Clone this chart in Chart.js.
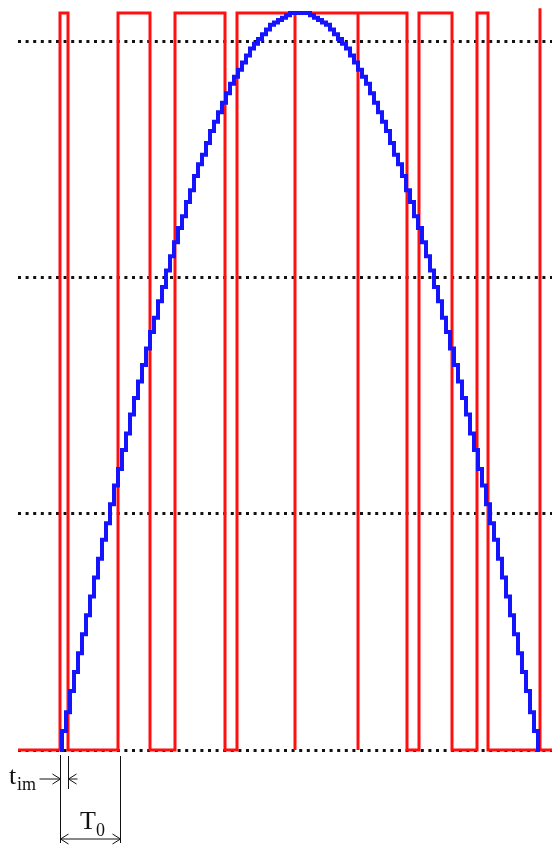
<!DOCTYPE html>
<html>
<head>
<meta charset="utf-8">
<script src="https://cdn.jsdelivr.net/npm/chart.js@4.4.1/dist/chart.umd.min.js"></script>
<style>
  html, body { margin: 0; padding: 0; background: #fff; }
  #wrap { width: 552px; height: 846px; position: relative; }
</style>
</head>
<body>
<div id="wrap"><canvas id="pwmChart"></canvas></div>
<script>
// horizontal extent (same units as the picture's x)
const xMin = 18;
const xMax = 552;
const yTop = 3.12;
const gridLevels = [0, 1, 2, 3];

// red pulse train: edges and the level held after each edge
const pulseX = [18, 60, 68, 118, 150, 175, 225, 237, 295, 295, 358, 358, 407, 419, 452, 477, 488, 540, 540, 552];
const pulseY = [0, 3.12, 0, 3.12, 0, 3.12, 0, 3.12, 0, 3.12, 0, 3.12, 0, 3.12, 0, 3.12, 0, 3.14, 0, 0];

// blue stepped half wave (rising half, falling half)
const waveX = [60, 64, 68, 72, 76, 80, 84, 88, 92, 96, 100, 104, 108, 112, 116, 120, 124, 128, 132, 136,
  140, 144, 148, 152, 156, 160, 164, 168, 172, 176, 180, 184, 188, 192, 196, 200, 204, 208, 212, 216,
  220, 224, 228, 232, 236, 240, 244, 248, 252, 256, 260, 264, 268, 272, 276, 280, 284, 288, 292, 296, 300,
  304, 308, 312, 316, 320, 324, 328, 332, 336, 340, 344, 348, 352, 356, 360, 364, 368, 372, 376,
  380, 384, 388, 392, 396, 400, 404, 408, 412, 416, 420, 424, 428, 432, 436, 440, 444, 448, 452, 456,
  460, 464, 468, 472, 476, 480, 484, 488, 492, 496, 500, 504, 508, 512, 516, 520, 524, 528, 532, 536, 540];
const waveY = [0, 0.08, 0.16, 0.25, 0.33, 0.41, 0.49, 0.57, 0.65, 0.73, 0.81, 0.89, 0.96, 1.04, 1.12, 1.19, 1.27, 1.34, 1.42, 1.49,
  1.56, 1.63, 1.70, 1.77, 1.83, 1.90, 1.96, 2.03, 2.09, 2.15, 2.21, 2.26, 2.32, 2.37, 2.43, 2.48, 2.52, 2.57, 2.62, 2.66,
  2.70, 2.74, 2.78, 2.82, 2.85, 2.88, 2.91, 2.94, 2.97, 2.99, 3.01, 3.03, 3.05, 3.07, 3.08, 3.09, 3.10, 3.11, 3.12, 3.12, 3.12,
  3.12, 3.12, 3.11, 3.10, 3.09, 3.08, 3.07, 3.05, 3.03, 3.01, 2.99, 2.97, 2.94, 2.91, 2.88, 2.85, 2.82, 2.78, 2.74,
  2.70, 2.66, 2.62, 2.57, 2.52, 2.48, 2.43, 2.37, 2.32, 2.26, 2.21, 2.15, 2.09, 2.03, 1.96, 1.90, 1.83, 1.77, 1.70, 1.63,
  1.56, 1.49, 1.42, 1.34, 1.27, 1.19, 1.12, 1.04, 0.96, 0.89, 0.81, 0.73, 0.65, 0.57, 0.49, 0.41, 0.33, 0.25, 0.16, 0.08, 0];

// dimension marks under the plot
const timStart = 60;
const timEnd = 68;
const periodEnd = 120;

const pulsePoints = pulseX.map((x, i) => ({ x: x, y: pulseY[i] }));
const wavePoints = waveX.map((x, i) => ({ x: x, y: waveY[i] }));

function arrowHead(ctx, x, y, dir) {
  ctx.beginPath();
  ctx.moveTo(x + dir * 8, y - 5);
  ctx.lineTo(x, y);
  ctx.lineTo(x + dir * 8, y + 5);
  ctx.stroke();
}

const dimensionPlugin = {
  id: 'dimensions',
  afterDraw(chart) {
    const ctx = chart.ctx;
    const xs = chart.scales.x;
    const ys = chart.scales.y;
    const base = ys.getPixelForValue(0);
    const a = Math.round(xs.getPixelForValue(timStart)) + 0.5;
    const b = Math.round(xs.getPixelForValue(timEnd)) + 0.5;
    const c = Math.round(xs.getPixelForValue(periodEnd)) + 0.5;
    ctx.save();
    ctx.strokeStyle = '#111';
    ctx.fillStyle = '#111';
    ctx.lineWidth = 1;

    // extension lines
    ctx.beginPath();
    ctx.moveTo(a, base + 5); ctx.lineTo(a, base + 93);
    ctx.moveTo(b, base + 6); ctx.lineTo(b, base + 39);
    ctx.moveTo(c, base + 6); ctx.lineTo(c, base + 93);
    ctx.stroke();

    // t_im arrows
    const yT = base + 29;
    ctx.beginPath();
    ctx.moveTo(a - 21, yT); ctx.lineTo(a, yT);
    ctx.moveTo(b, yT); ctx.lineTo(b + 9, yT);
    ctx.stroke();
    arrowHead(ctx, a, yT, -1);
    arrowHead(ctx, b, yT, 1);

    // T0 double arrow
    const yP = base + 89;
    ctx.beginPath();
    ctx.moveTo(a, yP); ctx.lineTo(c, yP);
    ctx.stroke();
    arrowHead(ctx, a, yP, 1);
    arrowHead(ctx, c, yP, -1);

    // labels
    ctx.textBaseline = 'alphabetic';
    ctx.font = '26px "Liberation Serif", serif';
    ctx.fillText('t', 9, base + 34);
    ctx.fillText('T', 80, base + 79);
    ctx.font = '18px "Liberation Serif", serif';
    ctx.fillText('im', 17, base + 40);
    ctx.fillText('0', 96, base + 86);
    ctx.restore();
  }
};

const ctx = document.getElementById('pwmChart').getContext('2d');
new Chart(ctx, {
  type: 'line',
  data: {
    datasets: [
      {
        label: 'wave',
        data: wavePoints,
        borderColor: '#1414ff',
        borderWidth: 4,
        pointRadius: 0,
        stepped: 'middle',
        fill: false,
        clip: false
      },
      {
        label: 'pulses',
        data: pulsePoints,
        borderColor: '#ff1010',
        borderWidth: 3,
        pointRadius: 0,
        stepped: 'before',
        fill: false,
        clip: false
      }
    ]
  },
  options: {
    responsive: true,
    maintainAspectRatio: false,
    animation: false,
    events: [],
    layout: { padding: { left: 18, right: 0, top: 13, bottom: 96 } },
    plugins: {
      legend: { display: false },
      tooltip: { enabled: false }
    },
    scales: {
      x: {
        type: 'linear',
        min: xMin,
        max: xMax,
        display: false
      },
      y: {
        type: 'linear',
        min: 0,
        max: yTop,
        afterBuildTicks(scale) {
          scale.ticks = gridLevels.map(v => ({ value: v }));
        },
        ticks: { display: false },
        border: { display: false, dash: [3, 4.6] },
        grid: { color: '#111', lineWidth: 3, drawTicks: false }
      }
    }
  },
  plugins: [dimensionPlugin]
});
</script>
</body>
</html>
